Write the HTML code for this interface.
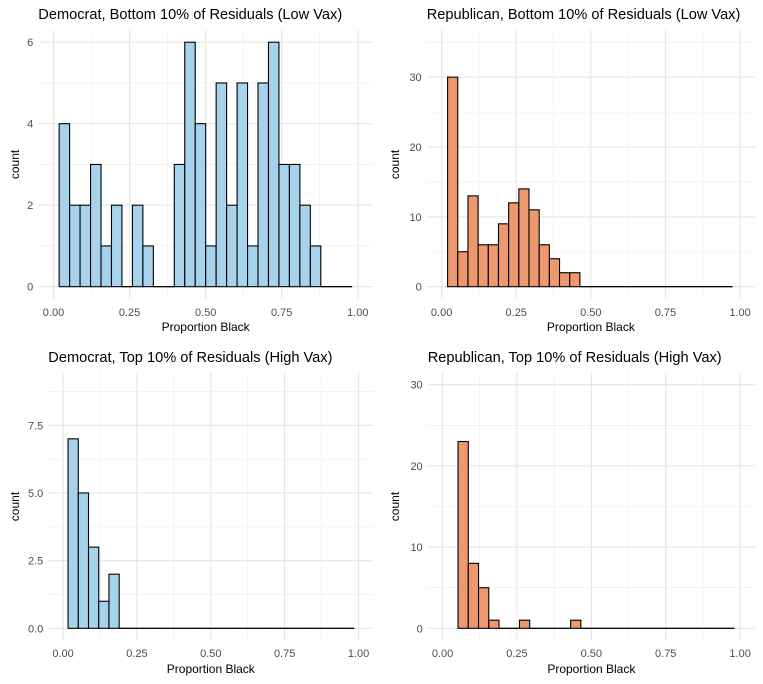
<!DOCTYPE html>
<html><head><meta charset="utf-8">
<style>
html,body{margin:0;padding:0;background:#fff;}
svg{display:block;font-family:"Liberation Sans",Arial,sans-serif;}
</style></head>
<body>
<svg id="chart" width="763" height="684" viewBox="0 0 763 684" xmlns="http://www.w3.org/2000/svg"></svg>
<script>
// Panel data (counts per bin, bin start and bin width in data units)
const demLowCounts = [4,2,2,3,1,2,0,2,1,0,0,3,6,4,1,5,2,5,1,5,6,3,3,2,1,0,0,0];
const demLowStart = 0.0185;
const demLowWidth = 0.0344;
const repLowCounts = [30,5,13,6,6,9,12,14,11,6,4,2,2,0,0,0,0,0,0,0,0,0,0,0,0,0,0,0];
const repLowStart = 0.02;
const repLowWidth = 0.0341;
const demHighCounts = [7,5,3,1,2,0,0,0,0,0,0,0,0,0,0,0,0,0,0,0,0,0,0,0,0,0,0,0];
const demHighStart = 0.0169;
const demHighWidth = 0.0346;
const repHighCounts = [23,8,5,1,0,0,1,0,0,0,0,1,0,0,0,0,0,0,0,0,0,0,0,0,0,0,0];
const repHighStart = 0.052;
const repHighWidth = 0.0344;
const xTicks = [0,0.25,0.5,0.75,1];
const xTickLabels = ["0.00","0.25","0.50","0.75","1.00"];
const demLowYTicks = [0,2,4,6];
const demLowYLabels = ["0","2","4","6"];
const repLowYTicks = [0,10,20,30];
const repLowYLabels = ["0","10","20","30"];
const demHighYTicks = [0,2.5,5,7.5];
const demHighYLabels = ["0.0","2.5","5.0","7.5"];
const repHighYTicks = [0,10,20,30];
const repHighYLabels = ["0","10","20","30"];

const NS = "http://www.w3.org/2000/svg";
const svg = document.getElementById("chart");
function mk(tag, attrs, parent){
  const e = document.createElementNS(NS, tag);
  for (const k in attrs) e.setAttribute(k, attrs[k]);
  (parent||svg).appendChild(e);
  return e;
}

function panel(cfg){
  const g = mk("g", {});
  
  
  const L = cfg.left, R = cfg.right, T = cfg.top, B = cfg.bottom;
  const xMin = -0.05, xMax = 1.05;
  const yMin = -cfg.yMax*0.05, yTop = cfg.yMax*1.05;
  const xs = v => L + (v - xMin)/(xMax - xMin)*(R - L);
  const ys = v => B - (v - yMin)/(yTop - yMin)*(B - T);
  // minor vertical grid
  for (let i=0;i<xTicks.length-1;i++){
    const m = (xTicks[i]+xTicks[i+1])/2;
    mk("line",{x1:xs(m),x2:xs(m),y1:T,y2:B,stroke:"#ebebeb","stroke-width":0.6},g);
  }
  // minor horizontal grid
  const step = cfg.yTicks[1]-cfg.yTicks[0];
  for (let v = step/2; v < yTop; v += step){
    mk("line",{x1:L,x2:R,y1:ys(v),y2:ys(v),stroke:"#ebebeb","stroke-width":0.6},g);
  }
  xTicks.forEach((t,i)=>{
    const gl = mk("line",{x1:xs(t),x2:xs(t),y1:T,y2:B,stroke:"#e6e6e6","stroke-width":1.1},g);
    
    
    const tl = mk("text",{x:xs(t),y:cfg.tickY,"text-anchor":"middle","font-size":"11px",fill:"#4d4d4d"},g);
    tl.textContent = xTickLabels[i];
    
    
  });
  cfg.yTicks.forEach((t,i)=>{
    const gl = mk("line",{x1:L,x2:R,y1:ys(t),y2:ys(t),stroke:"#e6e6e6","stroke-width":1.1},g);
    
    
    const tl = mk("text",{x:L-5,y:ys(t)+4,"text-anchor":"end","font-size":"11px",fill:"#4d4d4d"},g);
    tl.textContent = cfg.yLabels[i];
    
    
  });
  // bars
  cfg.counts.forEach((c,i)=>{
    const x0 = xs(cfg.start + i*cfg.width), x1 = xs(cfg.start + (i+1)*cfg.width);
    if (c > 0){
      const r = mk("rect",{x:x0,y:ys(c),width:x1-x0,height:ys(0)-ys(c),fill:cfg.color,stroke:"#000","stroke-width":1.1},g);
      
      
    } else {
      const r = mk("line",{x1:x0,x2:x1,y1:ys(0),y2:ys(0),stroke:"#000","stroke-width":1.3},g);
      
      
    }
  });
  const title = mk("text",{x:L,y:cfg.titleY,"font-size":"14.6px",fill:"#000"},g);
  title.textContent = cfg.title;
  
  
  const xt = mk("text",{x:(L+R)/2,y:cfg.xTitleY,"text-anchor":"middle","font-size":"12px",fill:"#000"},g);
  xt.textContent = "Proportion Black";
  
  
  const cy = (T+B)/2;
  const yt = mk("text",{x:cfg.yTitleX,y:cy,"text-anchor":"middle","font-size":"12px",fill:"#000",transform:`rotate(-90 ${cfg.yTitleX} ${cy})`},g);
  yt.textContent = "count";
  
  
}

panel({name:"panel-democrat-low-vax",title:"Democrat, Bottom 10% of Residuals (Low Vax)",left:38.3,right:373,top:30,bottom:298.9,
  yMax:6,yTicks:demLowYTicks,yLabels:demLowYLabels,counts:demLowCounts,start:demLowStart,width:demLowWidth,
  color:"#a6d3eb",titleY:19,tickY:316,xTitleY:331,yTitleX:19});
panel({name:"panel-republican-low-vax",title:"Republican, Bottom 10% of Residuals (Low Vax)",left:426.7,right:755,top:30,bottom:298.9,
  yMax:35,yTicks:repLowYTicks,yLabels:repLowYLabels,counts:repLowCounts,start:repLowStart,width:repLowWidth,
  color:"#ee9870",titleY:19,tickY:316,xTitleY:331,yTitleX:399});
panel({name:"panel-democrat-high-vax",title:"Democrat, Top 10% of Residuals (High Vax)",left:48.3,right:373.3,top:372.5,bottom:640.5,
  yMax:9,yTicks:demHighYTicks,yLabels:demHighYLabels,counts:demHighCounts,start:demHighStart,width:demHighWidth,
  color:"#a6d3eb",titleY:362,tickY:657,xTitleY:673,yTitleX:19});
panel({name:"panel-republican-high-vax",title:"Republican, Top 10% of Residuals (High Vax)",left:427.7,right:755,top:372.5,bottom:640.5,
  yMax:30,yTicks:repHighYTicks,yLabels:repHighYLabels,counts:repHighCounts,start:repHighStart,width:repHighWidth,
  color:"#ee9870",titleY:362,tickY:657,xTitleY:673,yTitleX:399});
</script>
</body></html>
